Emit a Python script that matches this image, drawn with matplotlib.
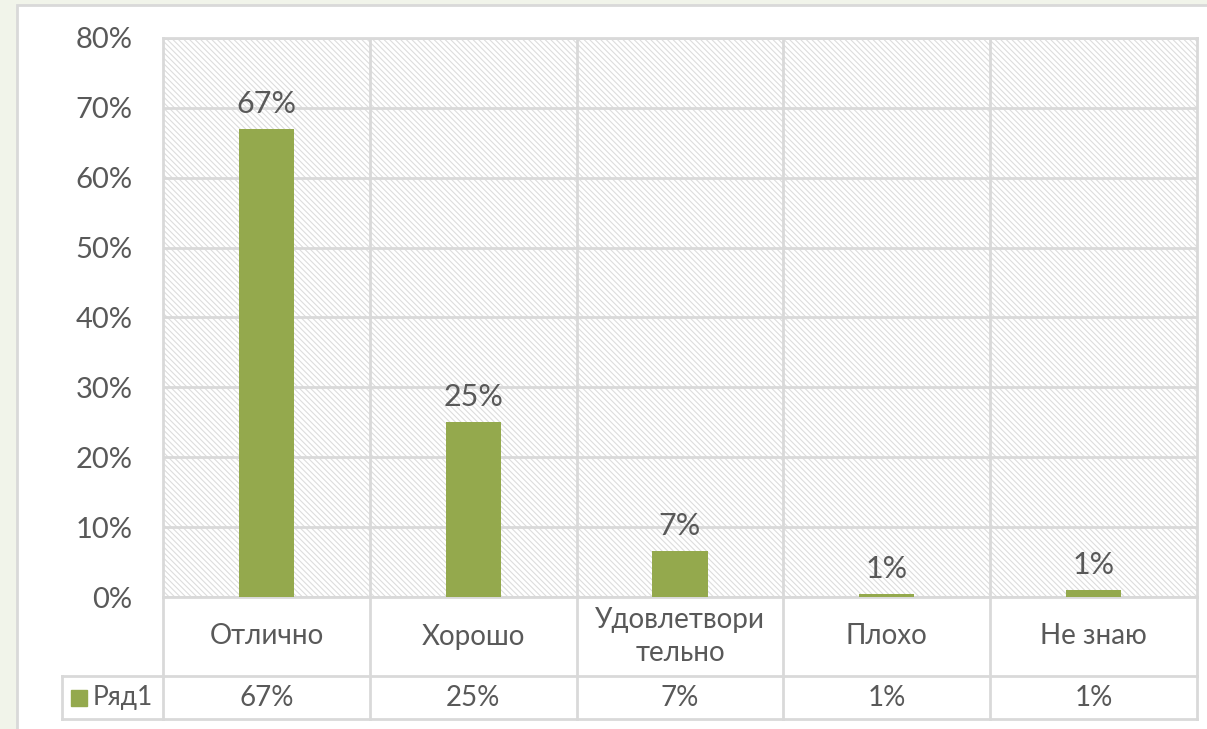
import matplotlib.pyplot as plt
from matplotlib.patches import Rectangle
from matplotlib.ticker import PercentFormatter

categories = ['Отлично', 'Хорошо', 'Удовлетвори\nтельно', 'Плохо', 'Не знаю']
values = [67, 25, 6.6, 0.4, 1.0]
value_labels = ['67%', '25%', '7%', '1%', '1%']
series_name = 'Ряд1'

bar_color = '#94A94D'
grid_color = '#D9D9D9'
text_color = '#595959'

plt.rcParams['font.family'] = ['Lato', 'Noto Sans', 'DejaVu Sans']
plt.rcParams['hatch.linewidth'] = 0.8

W, H = 1207, 729
fig = plt.figure(figsize=(W / 100, H / 100), dpi=100)
fig.patch.set_facecolor('#F1F4EA')

# white chart area with thin border
fig.add_artist(Rectangle((17 / W, -0.01), 1.0, (729 - 5) / H + 0.01, transform=fig.transFigure,
                         facecolor='white', edgecolor=grid_color, linewidth=2, zorder=0))

left, right, top, bot = 163, 1197, 38, 597
ax = fig.add_axes([left / W, (H - bot) / H, (right - left) / W, (bot - top) / H])
ax.set_facecolor('none')

# hatched plot area
ax.add_patch(Rectangle((0, 0), 1, 1, transform=ax.transAxes, facecolor='white',
                       edgecolor='#DDDDDD', hatch='\\' * 6, linewidth=0, zorder=0))

x = list(range(len(categories)))
ax.bar(x, values, width=0.266, color=bar_color, zorder=3)
for xi, v, lab in zip(x, values, value_labels):
    ax.annotate(lab, (xi, v), xytext=(0, 8), textcoords='offset points', ha='center', va='bottom',
                fontsize=22, color=text_color, zorder=4)

ax.set_xlim(-0.5, len(categories) - 0.5)
ax.set_ylim(0, 80)
ax.set_yticks(range(0, 81, 10))
ax.yaxis.set_major_formatter(PercentFormatter(decimals=0))
ax.set_xticks([])
ax.tick_params(axis='y', length=0, pad=22, labelsize=21, labelcolor=text_color)
ax.grid(axis='y', color=grid_color, linewidth=2, zorder=1)
for b in [i - 0.5 for i in range(1, len(categories))]:
    ax.axvline(b, color=grid_color, linewidth=2, zorder=1)
for s in ax.spines.values():
    s.set_color(grid_color)
    s.set_linewidth(2)

# data table below the plot
tb = 719
axt = fig.add_axes([left / W, (H - tb) / H, (right - left) / W, (tb - bot) / H])
axt.set_xlim(-0.5, len(categories) - 0.5)
axt.set_ylim(0, 1)
axt.axis('off')
row_y = (tb - 676) / (tb - bot)
cell_w = (right - left) / len(categories)
x_leg = -0.5 - (left - 62) / cell_w
lk = dict(color=grid_color, linewidth=2, clip_on=False, solid_capstyle='projecting')
axt.plot([x_leg, 4.5], [row_y, row_y], **lk)
axt.plot([x_leg, 4.5], [0, 0], **lk)
axt.plot([x_leg, x_leg], [0, row_y], **lk)
for b in [i - 0.5 for i in range(len(categories) + 1)]:
    axt.plot([b, b], [0, 1], **lk)

for xi, cat, lab in zip(x, categories, value_labels):
    axt.text(xi, (row_y + 1) / 2, cat, ha='center', va='center', fontsize=20, color=text_color,
             linespacing=1.3)
    axt.text(xi, row_y / 2, lab, ha='center', va='center', fontsize=20, color=text_color)

axt.plot([-0.5 - (left - 79) / cell_w], [row_y / 2], marker='s', markersize=11, color=bar_color,
         clip_on=False, linestyle='none')
axt.text(-0.5 - (left - 93) / cell_w, row_y / 2, series_name, ha='left', va='center', fontsize=19,
         color=text_color)

fig.savefig('out.png', dpi=100, facecolor=fig.get_facecolor())
